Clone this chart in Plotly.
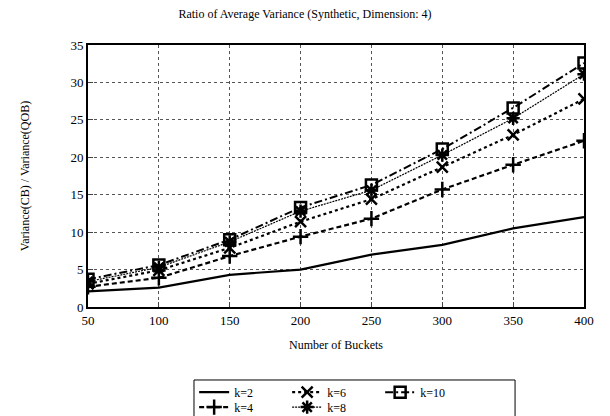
import plotly.graph_objects as go

buckets = [50, 100, 150, 200, 250, 300, 350, 400]
k2 = [2.1, 2.6, 4.3, 5.0, 7.0, 8.3, 10.5, 12.0]
k4 = [2.7, 3.9, 6.8, 9.4, 11.8, 15.7, 19.0, 22.2]
k6 = [3.1, 4.9, 7.9, 11.4, 14.4, 18.7, 23.0, 27.8]
k8 = [3.4, 5.3, 8.7, 12.8, 15.6, 20.3, 25.2, 31.1]
k10 = [3.7, 5.6, 9.0, 13.3, 16.3, 21.1, 26.6, 32.6]

series = [
    ("k=2", k2, "solid", None, 2.2, "legend"),
    ("k=6", k6, "dot", "x-thin", 2.2, "legend"),
    ("k=10", k10, "8px,3px,2px,3px", "square-open", 2.0, "legend"),
    ("k=4", k4, "5px,3px", "cross-thin", 2.2, "legend2"),
    ("k=8", k8, "2px,1px", "asterisk-open", 1.2, "legend2"),
]

fig = go.Figure()
for name, vals, dash, sym, lw, lg in series:
    mode = "lines" if sym is None else "lines+markers"
    fig.add_trace(go.Scatter(
        x=buckets, y=vals, name=name, mode=mode, legend=lg,
        line=dict(color="black", dash=dash, width=lw),
        marker=dict(symbol=sym or "circle", size=11, color="black",
                    line=dict(color="black", width=2.5)),
    ))

font = "Liberation Serif"
leg_common = dict(orientation="h", xanchor="left", yanchor="middle",
                  entrywidth=48, font=dict(size=12), borderwidth=0,
                  bgcolor="rgba(0,0,0,0)", itemwidth=30, tracegroupgap=0)
fig.update_layout(
    width=610, height=416,
    margin=dict(l=88, r=26, t=45, b=109, autoexpand=False),
    paper_bgcolor="white", plot_bgcolor="white",
    font=dict(family=font, size=13, color="black"),
    title=dict(text="Ratio of Average Variance (Synthetic, Dimension: 4)",
               x=0.5, xanchor="center", y=0.968, yanchor="middle",
               font=dict(family=font, size=12)),
    xaxis=dict(range=[50, 400], tickvals=buckets, showgrid=True,
               gridcolor="#555", griddash="dot", gridwidth=1,
               showline=True, linecolor="black", linewidth=2, mirror=True,
               ticks="inside", ticklen=5, zeroline=False,
               title=dict(text="Number of Buckets", font=dict(size=12), standoff=14)),
    yaxis=dict(range=[0, 35], dtick=5, showgrid=True,
               gridcolor="#555", griddash="dot", gridwidth=1,
               showline=True, linecolor="black", linewidth=2, mirror=True,
               ticks="inside", ticklen=5, zeroline=False,
               title=dict(text="Variance(CB) / Variance(QOB)", font=dict(size=12), standoff=38)),
    legend=dict(x=0.214, y=-0.325, **leg_common),
    legend2=dict(x=0.214, y=-0.382, **leg_common),
    shapes=[dict(type="rect", xref="paper", yref="paper",
                 x0=0.2137, x1=0.861, y0=-0.2786, y1=-0.42,
                 line=dict(color="black", width=1), fillcolor="rgba(0,0,0,0)")],
)
fig.write_html("out.html")
